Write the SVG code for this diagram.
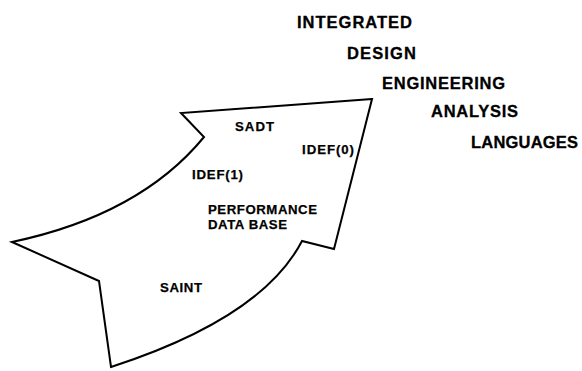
<svg xmlns="http://www.w3.org/2000/svg" width="582" height="371" viewBox="0 0 582 371">
  <style>
    .outline { fill: #ffffff; stroke: #000000; stroke-width: 2; stroke-linejoin: miter; }
    .big { font-family: "Liberation Sans", Arial, sans-serif; font-weight: bold; font-size: 16.5px; fill: #000000; stroke: #000000; stroke-width: 0.3; }
    .small { font-family: "Liberation Sans", Arial, sans-serif; font-weight: bold; font-size: 13.2px; fill: #000000; stroke: #000000; stroke-width: 0.25; }
  </style>
  <rect width="582" height="371" fill="#ffffff"/>

  <!-- curved upward arrow -->
  <g id="arrow">
    <path class="outline" d="M372,99 L181,113 L204,137 Q140,215 12,242 L99,281 L111,367 Q262,318 302,241 L334,249 Z"/>
  </g>

  <!-- labels inside the arrow -->
  <g id="sadt"><text class="small" x="235" y="131" textLength="39" lengthAdjust="spacing">SADT</text></g>
  <g id="idef0"><text class="small" x="302" y="154" textLength="52" lengthAdjust="spacing">IDEF(0)</text></g>
  <g id="idef1"><text class="small" x="192" y="179" textLength="51" lengthAdjust="spacing">IDEF(1)</text></g>
  <g id="performance-db">
    <text class="small" x="208" y="214" textLength="109" lengthAdjust="spacing">PERFORMANCE</text>
    <text class="small" x="208" y="229" textLength="79" lengthAdjust="spacing">DATA BASE</text>
  </g>
  <g id="saint"><text class="small" x="160" y="292" textLength="42" lengthAdjust="spacing">SAINT</text></g>

  <!-- stepped title -->
  <g id="title">
    <text class="big" x="297" y="28" textLength="115" lengthAdjust="spacing">INTEGRATED</text>
    <text class="big" x="347" y="59" textLength="69" lengthAdjust="spacing">DESIGN</text>
    <text class="big" x="382" y="89" textLength="123" lengthAdjust="spacing">ENGINEERING</text>
    <text class="big" x="431" y="117" textLength="87" lengthAdjust="spacing">ANALYSIS</text>
    <text class="big" x="471" y="148" textLength="107" lengthAdjust="spacing">LANGUAGES</text>
  </g>

  <g id="connectors"></g>
</svg>
